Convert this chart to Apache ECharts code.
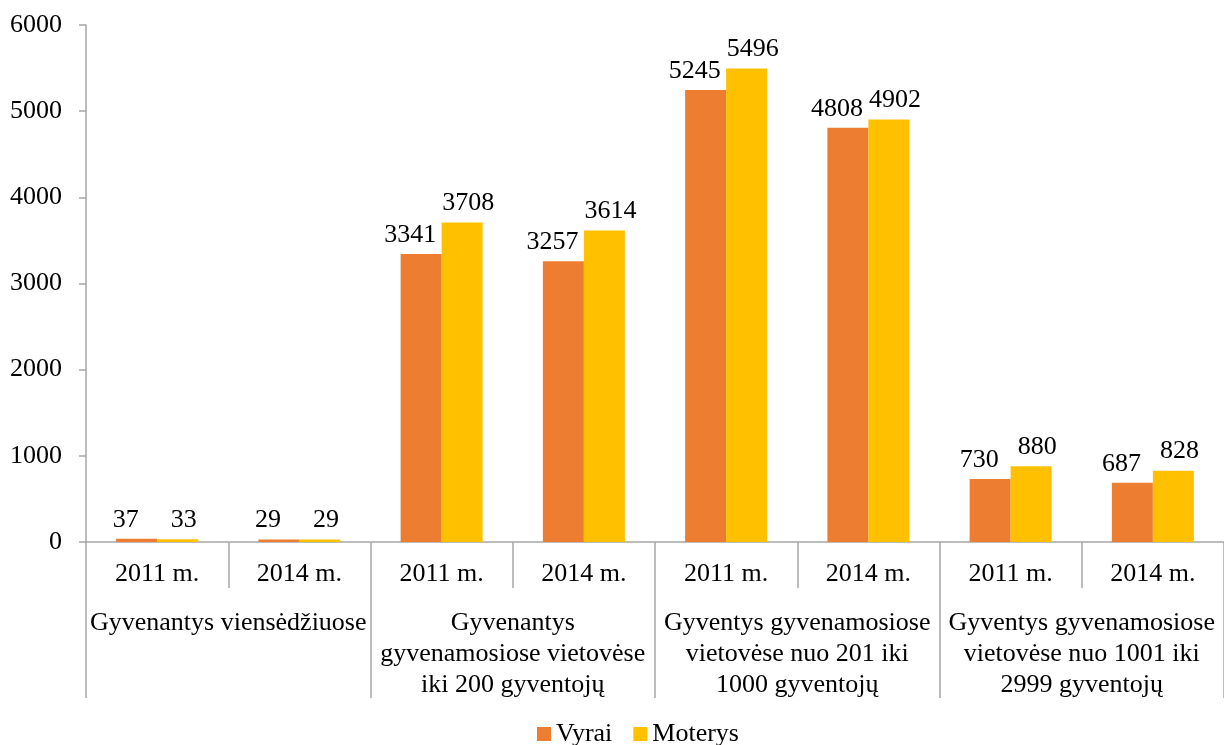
<!DOCTYPE html>
<html>
<head>
<meta charset="utf-8">
<script src="https://cdn.jsdelivr.net/npm/echarts@6/dist/echarts.min.js"></script>
<style>
html,body{margin:0;padding:0;background:#fff;}
#chart{width:1224px;height:745px;}
</style>
</head>
<body>
<div id="chart"></div>
<script>
const years = ["2011 m.", "2014 m.", "2011 m.", "2014 m.", "2011 m.", "2014 m.", "2011 m.", "2014 m."];
const groups = [
  "Gyvenantys viensėdžiuose",
  "Gyvenantys\ngyvenamosiose vietovėse\niki 200 gyventojų",
  "Gyventys gyvenamosiose\nvietovėse nuo 201 iki\n1000 gyventojų",
  "Gyventys gyvenamosiose\nvietovėse nuo 1001 iki\n2999 gyventojų"
];
const vyrai = [37, 29, 3341, 3257, 5245, 4808, 730, 687];
const moterys = [33, 29, 3708, 3614, 5496, 4902, 880, 828];
const yTicks = { min: 0, max: 6000, interval: 1000 };

const FONT = "'Liberation Serif', 'Times New Roman', serif";
const GRAY = "#A6A6A6";

const chart = echarts.init(document.getElementById('chart'), null, { renderer: 'canvas' });
const labelBase = { show: true, position: 'top', distance: 6, color: '#000', fontFamily: FONT, fontSize: 26 };
chart.setOption({
  animation: false,
  grid: { left: 86, right: 0, top: 25, bottom: 203, containLabel: false },
  legend: {
    data: ['Vyrai', 'Moterys'],
    left: 537, top: 721, padding: 0,
    itemWidth: 14, itemHeight: 14, itemGap: 21,
    icon: 'rect',
    textStyle: { fontFamily: FONT, fontSize: 26, color: '#000' }
  },
  xAxis: [
    {
      type: 'category', data: years, position: 'bottom',
      axisLine: { show: true, lineStyle: { color: GRAY, width: 1.5 } },
      axisTick: { show: true, interval: 0, length: 46, lineStyle: { color: GRAY, width: 1.5 } },
      axisLabel: { interval: 0, margin: 19, color: '#000', fontFamily: FONT, fontSize: 26 }
    },
    {
      type: 'category', data: groups, position: 'bottom', offset: 0,
      axisLine: { show: false },
      axisTick: { show: true, interval: 0, length: 156, lineStyle: { color: GRAY, width: 1.5 } },
      axisLabel: { interval: 0, margin: 66, color: '#000', fontFamily: FONT, fontSize: 26, lineHeight: 31, align: 'center' }
    }
  ],
  yAxis: {
    type: 'value', min: yTicks.min, max: yTicks.max, interval: yTicks.interval,
    splitLine: { show: false },
    axisLine: { show: true, lineStyle: { color: GRAY, width: 1.5 } },
    axisTick: { show: true, length: 7, lineStyle: { color: GRAY, width: 1.5 } },
    axisLabel: { margin: 24, color: '#000', fontFamily: FONT, fontSize: 26, formatter: v => String(v) }
  },
  series: [
    { name: 'Vyrai', type: 'bar', xAxisIndex: 0, data: vyrai, barWidth: 41, barGap: '0%',
      itemStyle: { color: '#ED7D31' }, label: Object.assign({}, labelBase, { offset: [-11, 0] }) },
    { name: 'Moterys', type: 'bar', xAxisIndex: 0, data: moterys, barWidth: 41, barGap: '0%',
      itemStyle: { color: '#FFC000' }, label: Object.assign({}, labelBase, { offset: [6, 0] }) }
  ]
});
</script>
</body>
</html>
